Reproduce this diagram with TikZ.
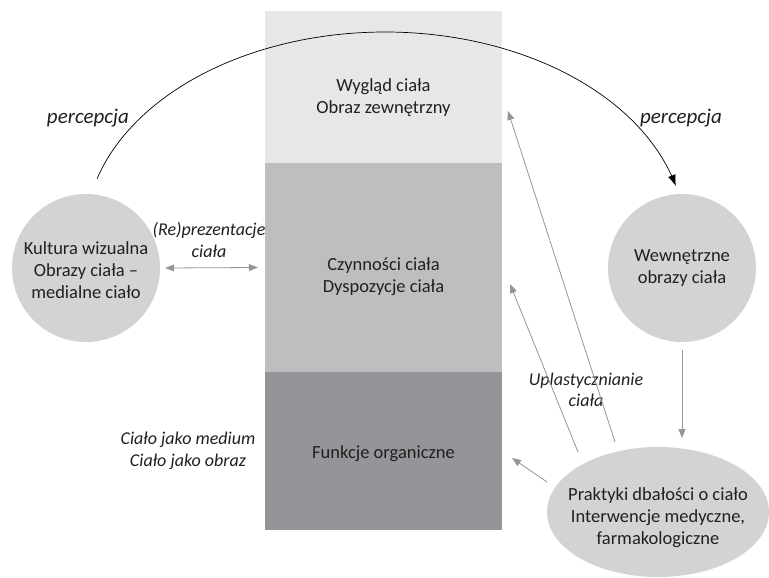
\documentclass[tikz,border=0pt]{standalone}
\usepackage{fontspec}
\setmainfont{Carlito}
\usetikzlibrary{shapes.geometric,arrows.meta}
\definecolor{cTop}{HTML}{E6E7E8}
\definecolor{cMid}{HTML}{BCBEC0}
\definecolor{cBot}{HTML}{939598}
\definecolor{cCirc}{HTML}{D1D3D4}
\definecolor{cArr}{HTML}{939598}
\definecolor{cTxt}{HTML}{231F20}
\tikzset{
  box/.style={rectangle, inner sep=0pt, minimum width=237pt},
  blob/.style={circle, fill=cCirc, minimum size=148pt, inner sep=0pt},
  txt/.style={align=center, text=cTxt, font=\fontsize{18.5}{22}\selectfont, inner sep=0pt},
  itxt/.style={txt, font=\fontsize{18}{21.5}\selectfont\itshape},
  ptxt/.style={txt, font=\fontsize{21}{24}\selectfont\itshape},
  garrow/.style={draw=cArr, line width=0.8pt, -{Triangle[length=9pt,width=7pt]}, color=cArr},
  gdarrow/.style={draw=cArr, line width=0.8pt, {Triangle[length=9pt,width=7pt]}-{Triangle[length=9pt,width=7pt]}, color=cArr},
  barrow/.style={draw=black, line width=0.7pt, -{Latex[length=11pt,width=8pt]}}
}
\begin{document}
\begin{tikzpicture}[x=1pt,y=-1pt]
\useasboundingbox (0,0) rectangle (769,578);
\fill[white] (0,0) rectangle (769,578);
% column
\node[box, fill=cTop, minimum height=152pt] (top) at (383.5,87) {};
\node[box, fill=cMid, minimum height=209pt] (mid) at (383.5,267.5) {};
\node[box, fill=cBot, minimum height=158pt] (bot) at (383.5,451) {};
\node[txt] (toptext) at (383.5,98) {Wygląd ciała\\Obraz zewnętrzny};
\node[txt] (midtext) at (383.5,277) {Czynności ciała\\Dyspozycje ciała};
\node[txt] (bottext) at (383.5,454) {Funkcje organiczne};
% circles
\node[blob] (kw) at (86,268) {};
\node[txt] (kwtext) at (86,270) {Kultura wizualna\\Obrazy ciała --\\medialne ciało};
\node[blob] (ww) at (682,268) {};
\node[txt] (wwtext) at (682,268) {Wewnętrzne\\obrazy ciała};
\node[ellipse, fill=cCirc, minimum width=222pt, minimum height=130pt, inner sep=0pt] (pr) at (658,512) {};
\node[txt] (prtext) at (658,518) {Praktyki dbałości o ciało\\Interwencje medyczne,\\farmakologiczne};
% labels
\node[ptxt] (perL) at (88,118) {percepcja};
\node[ptxt] (perR) at (681,118) {percepcja};
\node[itxt] (repr) at (209,240) {(Re)prezentacje\\ciała};
\node[itxt] (upl) at (586,390) {Uplastycznianie\\ciała};
\node[itxt] (med) at (188,451) {Ciało jako medium\\Ciało jako obraz};
% arc
\coordinate (arcS) at (97,180);
\draw[barrow] plot[domain=-163.7:-14.2, samples=80, smooth] ({385+300*cos(\x)},{236+204*sin(\x)});
% gray arrows
\coordinate (t1) at (615,442);
\coordinate (h1) at (508,111);
\coordinate (t2) at (578,452);
\coordinate (h2) at (510,284);
\coordinate (t3) at (547,482);
\coordinate (h3) at (512,458);
\coordinate (t4) at (682,350);
\coordinate (h4) at (682,438);
\draw[gdarrow] ([xshift=5pt]kw.east) -- ([xshift=-7pt]mid.west);
\draw[garrow] (t1) -- (h1);
\draw[garrow] (t2) -- (h2);
\draw[garrow] (t3) -- (h3);
\draw[garrow] (t4) -- (h4);
\end{tikzpicture}
\end{document}
